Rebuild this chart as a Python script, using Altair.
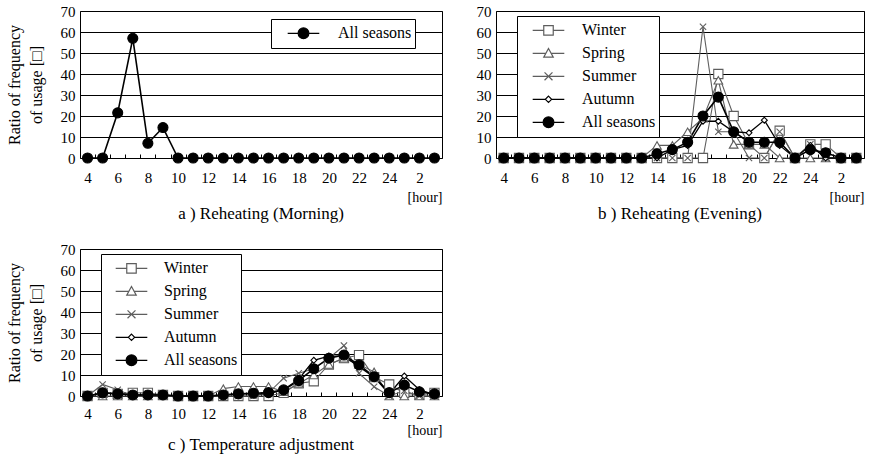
import altair as alt
import pandas as pd

# Hour of day: 4..24, then 1..3 of the next day stored as 25..27
hours = [4, 5, 6, 7, 8, 9, 10, 11, 12, 13, 14, 15, 16, 17, 18, 19, 20, 21, 22, 23, 24, 25, 26, 27]
tick_hours = [4, 6, 8, 10, 12, 14, 16, 18, 20, 22, 24, 26]
tick_edges = [4.5, 5.5, 6.5, 7.5, 8.5, 9.5, 10.5, 11.5, 12.5, 13.5, 14.5, 15.5,
              16.5, 17.5, 18.5, 19.5, 20.5, 21.5, 22.5, 23.5, 24.5, 25.5, 26.5]

series = ["Winter", "Spring", "Summer", "Autumn", "All seasons"]

# a) Reheating (Morning)
morning_all = [0, 0, 21.5, 57, 7, 14.5, 0, 0, 0, 0, 0, 0, 0, 0, 0, 0, 0, 0, 0, 0, 0, 0, 0, 0]

# b) Reheating (Evening)
evening_winter = [0, 0, 0, 0, 0, 0, 0, 0, 0, 0, 0, 0, 0, 0, 40, 20, 6.5, 0, 13, 0, 6.5, 6.5, 0, 0]
evening_spring = [0, 0, 0, 0, 0, 0, 0, 0, 0, 0, 6, 6, 12.5, 19, 37, 6.5, 6.5, 6.5, 0, 0, 0, 0, 0, 0]
evening_summer = [0, 0, 0, 0, 0, 0, 0, 0, 0, 0, 0, 0, 0, 62.5, 12.5, 12.5, 0, 0, 12.5, 0, 6.5, 0, 0, 0]
evening_autumn = [0, 0, 0, 0, 0, 0, 0, 0, 0, 0, 0, 4, 6, 17.5, 17.5, 12.5, 12, 18, 6, 0, 6, 0, 0, 0]
evening_all = [0, 0, 0, 0, 0, 0, 0, 0, 0, 0, 2, 4, 7.5, 20, 29, 12.5, 7.5, 7.5, 7.5, 0, 4, 2.5, 0, 0]

# c) Temperature adjustment
temp_winter = [0, 1.5, 1, 1.5, 1.5, 0.5, 0, 0, 0, 0, 0, 0, 0, 1.5, 6, 7, 15, 18, 19.5, 9, 5.5, 1.5, 0.5, 1.5]
temp_spring = [0, 0, 0, 0, 0, 0, 0, 0, 0, 3.5, 4.5, 4.5, 4.5, 2, 6, 10, 15, 18, 15, 11.5, 0, 0, 0, 0]
temp_summer = [0, 5.5, 3, 0, 0, 0, 0, 0, 0, 0, 0, 0, 1.5, 8.5, 10.8, 13, 18, 24, 10.8, 4.4, 0, 2.5, 0, 0]
temp_autumn = [0, 1.5, 1, 0.5, 0.5, 0.5, 0, 0, 0, 0.5, 1, 1, 1, 3, 8, 17, 19, 19, 14, 9, 1, 9.5, 3, 0.5]
temp_all = [0, 1.5, 1, 0.5, 0.5, 0.5, 0, 0, 0, 0.5, 1, 1.3, 1.6, 2.9, 7.3, 13, 18, 19.5, 14.8, 9.2, 1.6, 5.2, 2, 1]

FONT = "Liberation Serif"
GRAY = "#5e5e5e"

line_color = {"Winter": GRAY, "Spring": GRAY, "Summer": GRAY, "Autumn": "black", "All seasons": "black"}
line_width = {"Winter": 1.1, "Spring": 1.1, "Summer": 1.1, "Autumn": 1.3, "All seasons": 1.6}
point_shape = {
    "Winter": "square",
    "Spring": "triangle-up",
    "Summer": "M-1,-1L1,1M-1,1L1,-1",
    "Autumn": "diamond",
    "All seasons": "circle",
}
point_size = {"Winter": 85, "Spring": 75, "Summer": 40, "Autumn": 35, "All seasons": 100}
point_fill = {"Winter": "white", "Spring": "white", "Summer": "white", "Autumn": "white", "All seasons": "black"}

# legend glyphs: a short line with the marker sitting on it
legend_shape = {
    "Winter": "M-1,0H-0.3M0.3,0H1M-0.3,-0.3H0.3V0.3H-0.3Z",
    "Spring": "M-1,0H-0.18M0.18,0H1M0,-0.3L0.3,0.24L-0.3,0.24Z",
    "Summer": "M-1,0H1M-0.25,-0.25L0.25,0.25M-0.25,0.25L0.25,-0.25",
    "Autumn": "M-1,0H-0.2M0.2,0H1M0,-0.2L0.2,0L0,0.2L-0.2,0Z",
    "All seasons": "M-1,0H-0.34M0.34,0H1M-0.34,0A0.34,0.34,0,1,0,0.34,0A0.34,0.34,0,1,0,-0.34,0Z",
}


def table(columns):
    rows = []
    for name, values in columns:
        for h, v in zip(hours, values):
            rows.append({"hour": h, "value": v, "series": name})
    return pd.DataFrame(rows)


def panel(df, names, caption, y_title, width, legend_x, legend_y, sym_offset, trail,
          label_pad=12, title_pad=5, caption_offset=2):
    x_scale = alt.Scale(domain=[3.5, 27.5], nice=False, zero=False)
    y_scale = alt.Scale(domain=[0, 70], nice=False)
    y_axis = alt.Axis(
        values=[0, 10, 20, 30, 40, 50, 60, 70], grid=True, gridColor="black", gridWidth=1,
        ticks=False, domain=False, labelPadding=5, labelFontSize=15,
        title=y_title if y_title else None, titlePadding=16, titleFontSize=16,
        titleFontWeight="normal", titleLineHeight=22,
    )
    edge_axis = alt.Axis(
        values=tick_edges, orient="bottom", labels=False, domain=False, grid=False,
        ticks=True, tickSize=4, tickColor="black", tickWidth=1, offset=-4, title=None,
    )
    label_axis = alt.Axis(
        values=tick_hours, orient="bottom", grid=False, ticks=False, domain=False,
        labelExpr="datum.value > 24 ? datum.value - 24 : datum.value",
        labelFontSize=15, labelPadding=label_pad,
        title="[hour]", titleAnchor="end", titleAlign="right", titleFontSize=14,
        titleFontWeight="normal", titlePadding=title_pad,
    )

    def scale_for(mapping):
        return alt.Scale(type="ordinal", domain=names, range=[mapping[n] for n in names])

    lines = alt.Chart(df).mark_line(opacity=1).encode(
        x=alt.X("hour:Q", scale=x_scale, axis=edge_axis),
        y=alt.Y("value:Q", scale=y_scale, axis=y_axis),
        color=alt.Color("series:N", scale=scale_for(line_color), legend=None),
        strokeWidth=alt.StrokeWidth("series:N", scale=scale_for(line_width), legend=None),
        detail="series:N",
    )
    points = alt.Chart(df).mark_point(opacity=1, filled=True, strokeWidth=1.1).encode(
        x=alt.X("hour:Q", scale=x_scale, axis=label_axis),
        y=alt.Y("value:Q", scale=y_scale, axis=y_axis),
        shape=alt.Shape("series:N", scale=scale_for(point_shape), legend=None),
        stroke=alt.Stroke("series:N", scale=scale_for(line_color), legend=None),
        fill=alt.Fill("series:N", scale=scale_for(point_fill), legend=None),
        size=alt.Size("series:N", scale=scale_for(point_size), legend=None),
    )
    legend = alt.Legend(
        title=None, orient="none", legendX=legend_x, legendY=legend_y,
        strokeColor="black", fillColor="white", padding=3,
        labelFontSize=16, labelFont=FONT, labelColor="black",
        labelExpr="datum.label + '" + "\u00a0" * trail + "'",
        symbolOffset=sym_offset, labelOffset=sym_offset + 5,
        symbolSize=1000, symbolStrokeWidth=1.2, clipHeight=22.6, rowPadding=0,
    )
    key = alt.Chart(df).transform_filter("false").mark_point(opacity=1, filled=True).encode(
        shape=alt.Shape("series:N", scale=scale_for(legend_shape), legend=legend),
        stroke=alt.Stroke("series:N", scale=scale_for(line_color), legend=legend),
        fill=alt.Fill("series:N", scale=scale_for(point_fill), legend=legend),
    )
    return alt.layer(lines, points, key).resolve_scale(
        color="independent", strokeWidth="independent", shape="independent",
        stroke="independent", fill="independent", size="independent",
    ).resolve_axis(x="independent").properties(
        width=width, height=147,
        title=alt.TitleParams(caption, orient="bottom", anchor="middle", fontSize=17,
                              font=FONT, fontWeight="normal", offset=caption_offset,
                              color="black"),
    )


df_a = table([("All seasons", morning_all)])
df_b = table([("Winter", evening_winter), ("Spring", evening_spring), ("Summer", evening_summer),
              ("Autumn", evening_autumn), ("All seasons", evening_all)])
df_c = table([("Winter", temp_winter), ("Spring", temp_spring), ("Summer", temp_summer),
              ("Autumn", temp_autumn), ("All seasons", temp_all)])

y_title = ["Ratio of frequency", "of usage [\u25a1]"]

a = panel(df_a, ["All seasons"], "a ) Reheating (Morning)", y_title, 362, 191, 8, 13, 3)
b = panel(df_b, series, "b ) Reheating (Evening)", None, 368, 21, 5, 12, 1)
c = panel(df_c, series, "c ) Temperature adjustment", y_title, 362, 21, 5, 11, 1,
          label_pad=10, title_pad=2, caption_offset=0)

chart = alt.vconcat(
    alt.hconcat(a, b, spacing=32),
    c,
    spacing=18,
).properties(
    padding={"left": 5, "top": 3, "right": 5, "bottom": 5},
    background="white",
).configure_view(
    stroke="black", strokeWidth=1,
).configure_axis(
    labelFont=FONT, titleFont=FONT, labelColor="black", titleColor="black",
)

chart.save("out.html", embed_options={"renderer": "svg", "actions": False})
